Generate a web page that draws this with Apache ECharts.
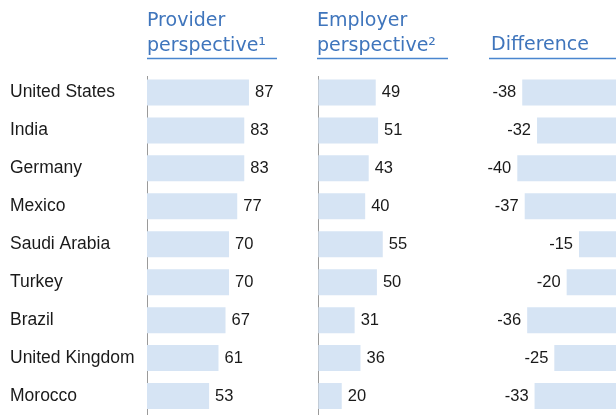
<!DOCTYPE html>
<html>
<head>
<meta charset="utf-8">
<script src="https://cdn.jsdelivr.net/npm/echarts@6/dist/echarts.min.js"></script>
<style>
  html, body { margin: 0; padding: 0; background: #fff; }
  #chart { width: 616px; height: 415px; }
</style>
</head>
<body>
<div id="chart"></div>
<script>
// data
var countries = ['United States', 'India', 'Germany', 'Mexico', 'Saudi Arabia', 'Turkey', 'Brazil', 'United Kingdom', 'Morocco'];
var provider = [87, 83, 83, 77, 70, 70, 67, 61, 53];
var employer = [49, 51, 43, 40, 55, 50, 31, 36, 20];
var difference = [-38, -32, -40, -37, -15, -20, -36, -25, -33];

var barColor = '#d6e4f4';
var blue = '#3f75bc';
var textFont = 'Liberation Sans, Arial, sans-serif';
var headFont = 'DejaVu Sans, sans-serif';

var myChart = echarts.init(document.getElementById('chart'), null, { renderer: 'canvas' });

function catAxis(idx, showLabel) {
  return {
    type: 'category',
    gridIndex: idx,
    data: countries,
    inverse: true,
    axisLine: { show: false },
    axisTick: { show: false },
    axisLabel: {
      show: showLabel,
      align: 'left',
      margin: 137,
      color: '#1a1a1a',
      fontSize: 17.5,
      fontFamily: textFont
    }
  };
}

function valAxis(idx, min, max) {
  return {
    type: 'value',
    gridIndex: idx,
    min: min,
    max: max,
    axisLabel: { show: false },
    axisTick: { show: false },
    splitLine: { show: false },
    axisLine: { show: false }
  };
}

function barSeries(idx, data, pos) {
  return {
    type: 'bar',
    xAxisIndex: idx,
    yAxisIndex: idx,
    data: data,
    barWidth: 26,
    itemStyle: { color: barColor },
    label: {
      show: true,
      position: pos,
      distance: 6,
      color: '#1a1a1a',
      fontSize: 16.5,
      fontFamily: textFont
    },
    silent: true
  };
}

var option = {
  animation: false,
  backgroundColor: '#fff',
  grid: [
    { left: 147, top: 73.5, width: 117.2, height: 342 },
    { left: 318.3, top: 73.5, width: 117.2, height: 342 },
    { left: 517.3, top: 73.5, width: 103.2, height: 342 }
  ],
  xAxis: [valAxis(0, 0, 100), valAxis(1, 0, 100), valAxis(2, -40, 0)],
  yAxis: [catAxis(0, true), catAxis(1, false), catAxis(2, false)],
  series: [
    barSeries(0, provider, 'right'),
    barSeries(1, employer, 'right'),
    barSeries(2, difference, 'left')
  ],
  graphic: [
    // headers + underlines
    { type: 'text', left: 147, top: 9, style: { text: 'Provider\nperspective¹', font: '19px ' + headFont, fill: blue, lineHeight: 25 } },
    { type: 'text', left: 317, top: 9, style: { text: 'Employer\nperspective²', font: '19px ' + headFont, fill: blue, lineHeight: 25 } },
    { type: 'text', left: 491, top: 33, style: { text: 'Difference', font: '19px ' + headFont, fill: blue, lineHeight: 25 } },
    { type: 'line', shape: { x1: 147, y1: 58.5, x2: 277, y2: 58.5 }, style: { stroke: '#4a86cf', lineWidth: 1.5 } },
    { type: 'line', shape: { x1: 317, y1: 58.5, x2: 448, y2: 58.5 }, style: { stroke: '#4a86cf', lineWidth: 1.5 } },
    { type: 'line', shape: { x1: 489, y1: 58.5, x2: 616, y2: 58.5 }, style: { stroke: '#4a86cf', lineWidth: 1.5 } },
    // zero lines of the first two panels
    { type: 'line', shape: { x1: 147.5, y1: 76, x2: 147.5, y2: 415 }, style: { stroke: '#9a9a9a', lineWidth: 1 } },
    { type: 'line', shape: { x1: 318.5, y1: 76, x2: 318.5, y2: 415 }, style: { stroke: '#9a9a9a', lineWidth: 1 } }
  ]
};

myChart.setOption(option);
</script>
</body>
</html>
